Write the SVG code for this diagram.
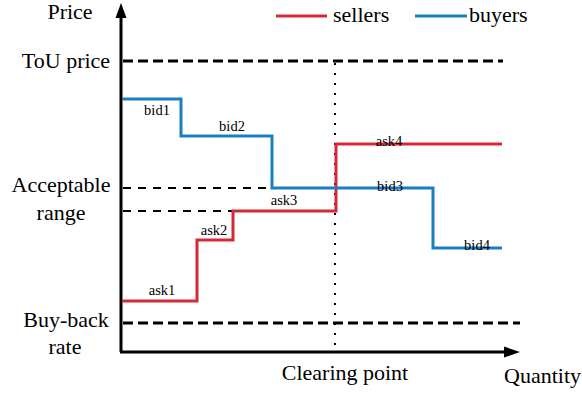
<svg xmlns="http://www.w3.org/2000/svg" width="582" height="395" viewBox="0 0 582 395">
  <style>
    .lbl { font-family: "Liberation Serif", "Times New Roman", serif; font-size: 22px; fill: #000; }
    .tag { font-family: "Liberation Serif", "Times New Roman", serif; font-size: 14.5px; fill: #000; }
    .axis { stroke: #000; stroke-width: 3; fill: none; }
    .bound { stroke: #000; stroke-width: 3; stroke-dasharray: 10 5; fill: none; }
    .range { stroke: #000; stroke-width: 2; stroke-dasharray: 8 7; fill: none; }
    .clear { stroke: #000; stroke-width: 2; stroke-dasharray: 2 8; fill: none; }
    .sell { stroke: #d42a38; stroke-width: 3; fill: none; }
    .buy { stroke: #1a7fc1; stroke-width: 3; fill: none; }
  </style>

  <!-- axes -->
  <g id="axes">
    <line class="axis" x1="121" y1="16" x2="121" y2="352"/>
    <line class="axis" x1="120" y1="352" x2="506" y2="352"/>
    <polygon points="121,3 115.5,18 126.5,18" fill="#000"/>
    <polygon points="520,352 504,346.5 504,357.5" fill="#000"/>
  </g>

  <!-- reference price levels -->
  <g id="levels">
    <line class="bound" x1="123" y1="61" x2="503" y2="61"/>
    <line class="bound" x1="123" y1="323" x2="520" y2="323"/>
    <line class="range" x1="123" y1="188" x2="272" y2="188"/>
    <line class="range" x1="123" y1="211" x2="234" y2="211"/>
    <line class="clear" x1="335" y1="63" x2="335" y2="352"/>
  </g>

  <!-- supply and demand step curves -->
  <g id="sellers">
    <polyline class="sell" points="122,301 197,301 197,240 233,240 233,211 336,211 336,144 502,144"/>
  </g>
  <g id="buyers">
    <polyline class="buy" points="122,99 181,99 181,136 272,136 272,188 433,188 433,248 502,248"/>
  </g>

  <!-- step labels -->
  <g id="step-labels">
    <text class="tag" x="157" y="115" text-anchor="middle">bid1</text>
    <text class="tag" x="232" y="131" text-anchor="middle">bid2</text>
    <text class="tag" x="390" y="191" text-anchor="middle">bid3</text>
    <text class="tag" x="477" y="250" text-anchor="middle">bid4</text>
    <text class="tag" x="162" y="295" text-anchor="middle">ask1</text>
    <text class="tag" x="214" y="235" text-anchor="middle">ask2</text>
    <text class="tag" x="284" y="205" text-anchor="middle">ask3</text>
    <text class="tag" x="389" y="146" text-anchor="middle">ask4</text>
  </g>

  <!-- axis labels -->
  <g id="axis-labels">
    <text class="lbl" x="70" y="19" text-anchor="middle">Price</text>
    <text class="lbl" x="66" y="68" text-anchor="middle">ToU price</text>
    <text class="lbl" x="61" y="192" text-anchor="middle">Acceptable</text>
    <text class="lbl" x="61" y="220" text-anchor="middle">range</text>
    <text class="lbl" x="66" y="327" text-anchor="middle">Buy-back</text>
    <text class="lbl" x="65" y="354" text-anchor="middle">rate</text>
    <text class="lbl" x="345" y="380" text-anchor="middle">Clearing point</text>
    <text class="lbl" x="581" y="383" text-anchor="end">Quantity</text>
  </g>

  <!-- legend -->
  <g id="legend">
    <line class="sell" x1="276" y1="16" x2="327" y2="16"/>
    <text class="lbl" x="333" y="22">sellers</text>
    <line class="buy" x1="415" y1="16" x2="467" y2="16"/>
    <text class="lbl" x="469" y="22">buyers</text>
  </g>
</svg>
